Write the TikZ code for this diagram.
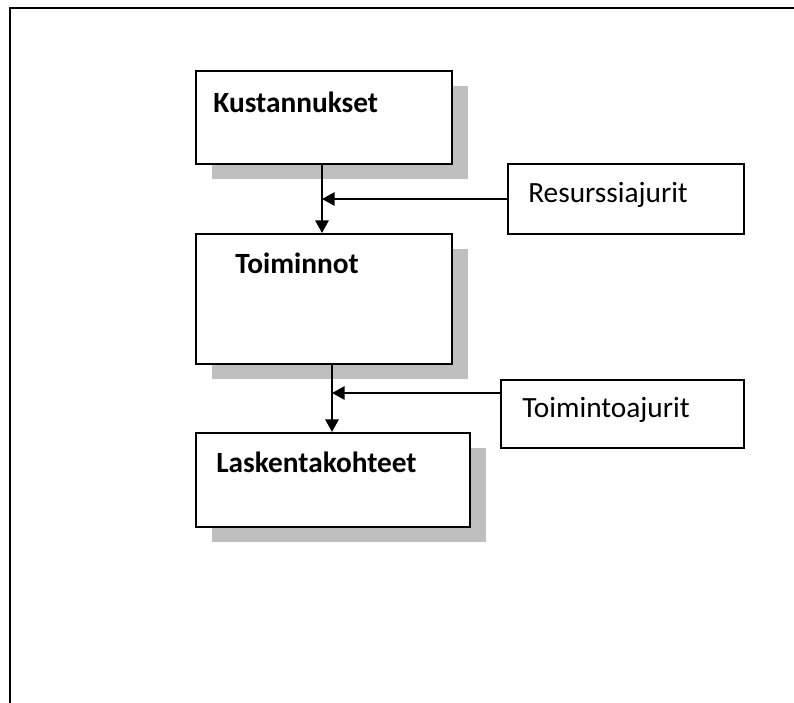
\documentclass[tikz,border=0pt]{standalone}
\usepackage{fontspec}
\setmainfont{Carlito}
\usetikzlibrary{positioning,arrows.meta,calc,shadows}

\begin{document}
\begin{tikzpicture}[x=0.75pt,y=-0.75pt,>={Triangle[length=9.5pt,width=10pt]},
  box/.style={draw,line width=1.5pt,fill=white,anchor=north west,inner sep=0pt,
    drop shadow={shadow xshift=12pt,shadow yshift=-11.5pt,fill=black!25,opacity=1}},
  driver/.style={draw,line width=1.5pt,fill=white,anchor=north west,inner sep=0pt},
  title/.style={anchor=west,inner sep=0pt,font=\fontsize{22}{26}\selectfont\bfseries},
  drvtext/.style={anchor=west,inner sep=0pt,font=\fontsize{22}{26}\selectfont},
  flow/.style={->,line width=1.6pt}]
\useasboundingbox (0,0) rectangle (794,703);
% outer frame
\draw[line width=1.7pt] (10,703) -- (10,8) -- (794,8);
% main boxes
\node[box,minimum width=192pt,minimum height=69.75pt] (kust) at (195,70) {};
\node[title] (kustT) at (213,102) {Kustannukset};
\node[box,minimum width=192pt,minimum height=97.5pt] (toim) at (195,233) {};
\node[title] (toimT) at (235,263) {Toiminnot};
\node[box,minimum width=205.5pt,minimum height=70.5pt] (lask) at (195,432) {};
\node[title] (laskT) at (216,462) {Laskentakohteet};
% drivers
\node[driver,minimum width=177pt,minimum height=52.5pt] (res) at (507,163) {};
\node[drvtext] (resT) at (528,195) {Resurssiajurit};
\node[driver,minimum width=182.25pt,minimum height=51pt] (tajur) at (500,379) {};
\node[drvtext] (tajurT) at (522,410) {Toimintoajurit};
% connectors
\coordinate (a1) at ($(kust.south west)+(127,0)$);
\draw[flow] (a1) -- (a1 |- toim.north);
\draw[flow] (res.west) -- (a1 |- res.west);
\coordinate (a2) at ($(toim.south west)+(137,0)$);
\draw[flow] (a2) -- (a2 |- lask.north);
\coordinate (t2) at ($(tajur.north west)+(0,14)$);
\draw[flow] (t2) -- (a2 |- t2);
\end{tikzpicture}
\end{document}
